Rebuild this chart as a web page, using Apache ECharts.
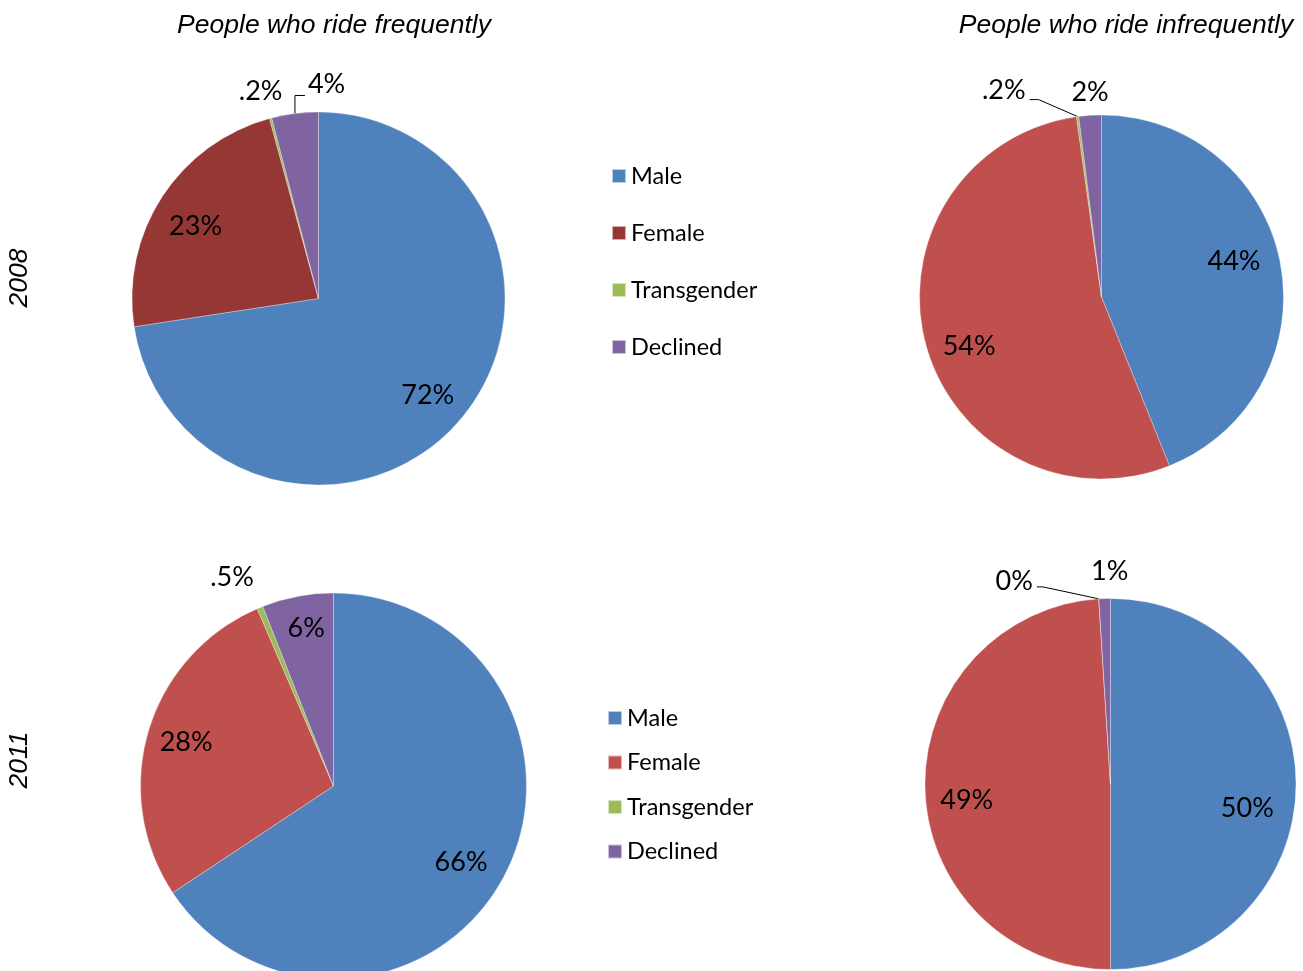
<!DOCTYPE html>
<html><head><meta charset="utf-8">
<script src="https://cdn.jsdelivr.net/npm/echarts@6/dist/echarts.min.js"></script>
<style>html,body{margin:0;padding:0;background:#fff}#c{width:1303px;height:971px}</style>
</head><body><div id="c"></div>
<script>
// ---- data ----
const categories = ['Male', 'Female', 'Transgender', 'Declined'];
const freq2008 = [72, 23, 0.2, 4];
const infreq2008 = [44, 54, 0.2, 2];
const freq2011 = [66, 28, 0.5, 6];
const infreq2011 = [50, 49, 0, 1];
const columnTitles = ['People who ride frequently', 'People who ride infrequently'];
const rowTitles = ['2008', '2011'];

// ---- styles ----
const baseColors = ['#4F81BD', '#C0504D', '#9BBB59', '#8064A2'];
const darkColors = ['#4F81BD', '#953735', '#9BBB59', '#8064A2'];
const labelFont = { fontFamily: 'Lato', fontSize: 27, color: '#000' };
const insideThreshold = 5;

const pies = [
  { id: 'tl', values: freq2008, colors: darkColors, center: [318.5, 298.5], r: 186.5,
    inside: { 0: [-2, 1], 1: [0, 8] },
    outside: { 2: { dx: -10, dy: -27, align: 'center' },
               3: { dx: 13, dy: -29, align: 'left', line: [[0, -18], [10, -18]] } } },
  { id: 'tr', values: infreq2008, colors: baseColors, center: [1101.5, 297], r: 182,
    inside: { 0: [-8, -8], 1: [6, 12] },
    outside: { 2: { dx: -52, dy: -26, align: 'right', line: [[-39, -17], [-48, -17]] },
               3: { dx: 0, dy: -23, align: 'center' } } },
  { id: 'bl', values: freq2011, colors: baseColors, center: [333.5, 786], r: 193,
    inside: { 0: [-6, 5], 1: [-2, 0], 3: [1, -9] },
    outside: { 2: { dx: -28, dy: -30, align: 'center' } } },
  { id: 'br', values: infreq2011, colors: baseColors, center: [1110.5, 784], r: 185.5,
    inside: { 0: [-9, 24], 1: [2, 12] },
    outside: { 2: { dx: -66, dy: -18, align: 'right', line: [[-56, -12], [-62, -12]] },
               3: { dx: 5, dy: -27, align: 'center' } } }
];

function fmt(v) {
  if (v > 0 && v < 1) return String(v).replace(/^0/, '') + '%';
  return v + '%';
}

const series = [];
pies.forEach(p => {
  series.push({
    type: 'pie', name: p.id, center: p.center, radius: [0, p.r],
    startAngle: 90, clockwise: true, avoidLabelOverlap: false, animation: false,
    itemStyle: { borderColor: 'rgba(255,255,255,0.6)', borderWidth: 0.5 },
    label: Object.assign({ position: 'outside', formatter: q => fmt(q.value) }, labelFont),
    labelLine: { lineStyle: { color: '#000', width: 1 } },
    data: categories.map((c, i) => {
      const out = p.values[i] < insideThreshold;
      return { name: c, value: p.values[i], itemStyle: { color: p.colors[i] },
               label: { show: out }, labelLine: { show: out } };
    }),
    labelLayout: function (params) {
      const cfg = p.outside[params.dataIndex];
      if (!cfg || !params.labelLinePoints) return {};
      const p0 = params.labelLinePoints[0];
      const pts = [p0.slice()];
      if (cfg.line) cfg.line.forEach(o => pts.push([p0[0] + o[0], p0[1] + o[1]]));
      else pts.push(p0.slice());
      return { x: p0[0] + cfg.dx, y: p0[1] + cfg.dy, align: cfg.align,
               verticalAlign: 'middle', labelLinePoints: pts };
    }
  });
});
// overlay series for inside labels (placed at ~0.77 of radius)
pies.forEach(p => {
  series.push({
    type: 'pie', name: p.id + '_lbl', center: p.center, radius: [0, p.r * 1.54],
    startAngle: 90, clockwise: true, silent: true, animation: false, legendHoverLink: false,
    avoidLabelOverlap: false, z: 5,
    itemStyle: { color: 'rgba(0,0,0,0)' },
    label: Object.assign({ position: 'inside', formatter: q => fmt(q.value) }, labelFont),
    labelLine: { show: false },
    data: categories.map((c, i) => ({ name: c, value: p.values[i],
      itemStyle: { color: 'rgba(0,0,0,0)' },
      label: { show: p.values[i] >= insideThreshold } })),
    labelLayout: function (params) {
      const o = p.inside[params.dataIndex];
      return o ? { dx: o[0], dy: o[1] } : {};
    }
  });
});

const legendText = { fontFamily: 'Lato', fontSize: 23.5, lineHeight: 24, color: '#000' };
const titleFont = 'italic 26.5px "Liberation Sans", Arial';
const option = {
  backgroundColor: '#fff',
  animation: false,
  legend: [
    { orient: 'vertical', left: 611, top: 164, padding: 0, itemWidth: 14, itemHeight: 14,
      itemGap: 33, icon: 'rect', textStyle: legendText, selectedMode: false,
      data: categories.map((c, i) => ({ name: c, itemStyle: { color: darkColors[i] } })) },
    { orient: 'vertical', left: 607, top: 706, padding: 0, itemWidth: 14, itemHeight: 14,
      itemGap: 20.5, icon: 'rect', textStyle: legendText, selectedMode: false,
      data: categories.map((c, i) => ({ name: c, itemStyle: { color: baseColors[i] } })) }
  ],
  graphic: [
    { type: 'text', x: 334, y: 26, style: { text: columnTitles[0], font: titleFont,
      fill: '#000', textAlign: 'center', textVerticalAlign: 'middle' } },
    { type: 'text', x: 1126, y: 26, style: { text: columnTitles[1], font: titleFont,
      fill: '#000', textAlign: 'center', textVerticalAlign: 'middle' } },
    { type: 'text', x: 20, y: 278, rotation: Math.PI / 2, style: { text: rowTitles[0], font: titleFont,
      fill: '#000', textAlign: 'center', textVerticalAlign: 'middle' } },
    { type: 'text', x: 20, y: 760, rotation: Math.PI / 2, style: { text: rowTitles[1], font: titleFont,
      fill: '#000', textAlign: 'center', textVerticalAlign: 'middle' } }
  ],
  series: series
};
const chart = echarts.init(document.getElementById('c'), null, { renderer: 'canvas' });
chart.setOption(option);
</script>
</body></html>
